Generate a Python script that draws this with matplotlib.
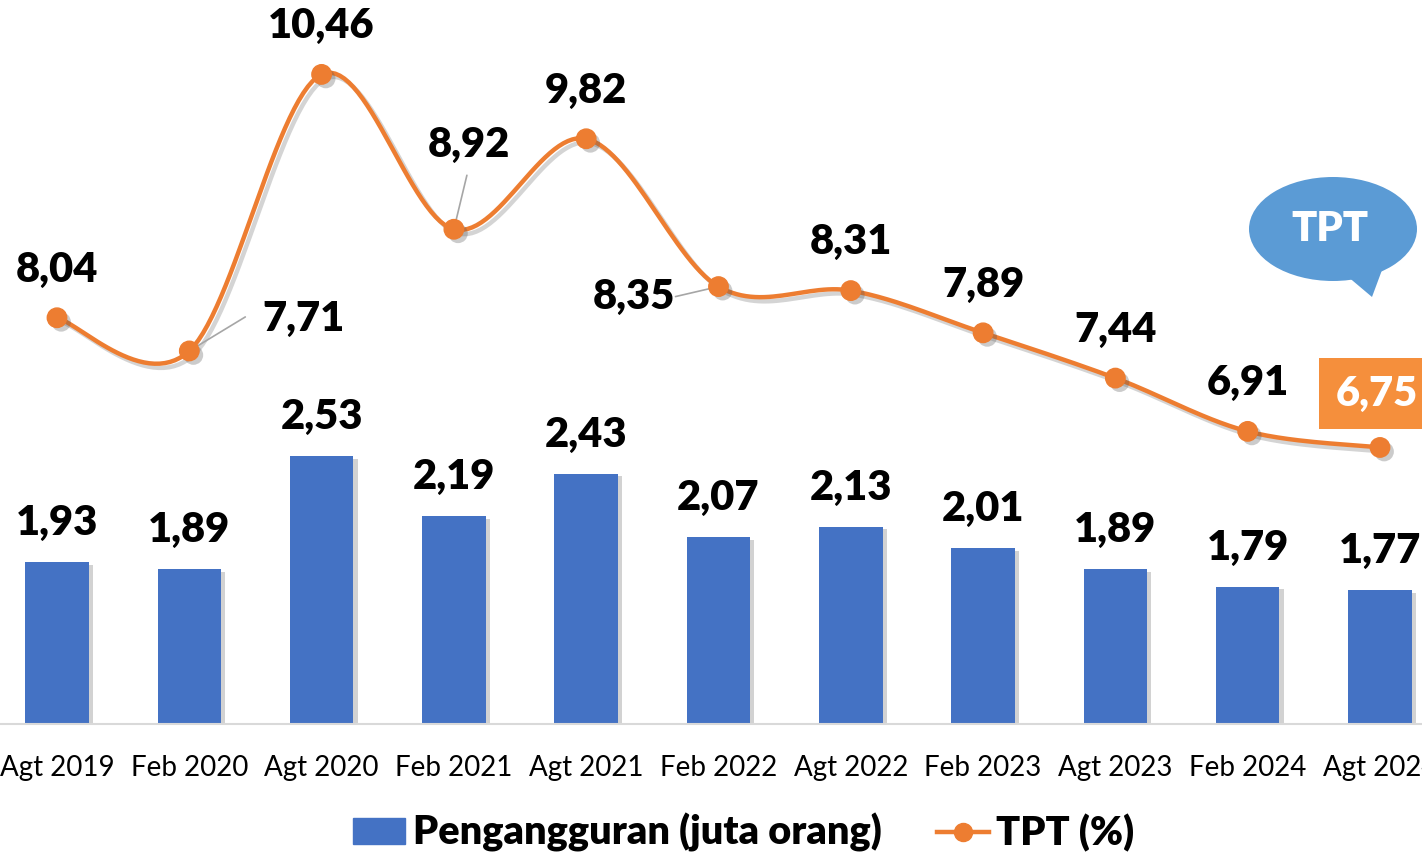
import matplotlib.pyplot as plt
import matplotlib.patheffects as pe
from matplotlib.patches import Patch, Ellipse, Polygon
from matplotlib.lines import Line2D
import numpy as np

plt.rcParams['font.family'] = ['Lato', 'DejaVu Sans']

# data
periode = ["Agt 2019", "Feb 2020", "Agt 2020", "Feb 2021", "Agt 2021", "Feb 2022",
           "Agt 2022", "Feb 2023", "Agt 2023", "Feb 2024", "Agt 2024"]
pengangguran = [1.93, 1.89, 2.53, 2.19, 2.43, 2.07, 2.13, 2.01, 1.89, 1.79, 1.77]
tpt = [8.04, 7.71, 10.46, 8.92, 9.82, 8.35, 8.31, 7.89, 7.44, 6.91, 6.75]

bar_color = "#4472C4"
line_color = "#ED7D31"
bold = "heavy"
lbl_size = 30


def fmt(v):
    return f"{v:.2f}".replace(".", ",")


def catmull_rom(xs, ys, n=30):
    # kurva halus ala Excel
    p = np.column_stack([xs, ys]).astype(float)
    p = np.vstack([p[0], p, p[-1]])
    out = []
    for i in range(1, len(p) - 2):
        p0, p1, p2, p3 = p[i - 1], p[i], p[i + 1], p[i + 2]
        c1 = p1 + (p2 - p0) / 6
        c2 = p2 - (p3 - p1) / 6
        t = np.linspace(0, 1, n)[:, None]
        seg = (1 - t) ** 3 * p1 + 3 * (1 - t) ** 2 * t * c1 + 3 * (1 - t) * t ** 2 * c2 + t ** 3 * p2
        out.append(seg if i == 1 else seg[1:])
    out = np.vstack(out)
    return out[:, 0], out[:, 1]


W, H = 1422, 856
fig = plt.figure(figsize=(W / 100, H / 100), dpi=100)
ax = fig.add_axes([-9.15 / W, 1 - 724 / H, 1455.3 / W, 724 / H])
x = np.arange(len(periode))

bars = ax.bar(x, pengangguran, 0.48, color=bar_color, zorder=2,
              path_effects=[pe.SimplePatchShadow(offset=(3, -2), shadow_rgbFace="#7f7f7f", alpha=0.35),
                            pe.Normal()])
ax.set_xlim(-0.5, len(periode) - 0.5)
ax.set_ylim(1.013, 5.11)
for i, v in enumerate(pengangguran):
    ax.annotate(fmt(v), (x[i], v), xytext=(0, 28), textcoords="offset points",
                ha="center", va="center", fontsize=lbl_size, fontweight=bold, color="black")

for s in ["top", "right", "left"]:
    ax.spines[s].set_visible(False)
ax.spines["bottom"].set_color("#D9D9D9")
ax.spines["bottom"].set_linewidth(1.5)
ax.set_yticks([])
ax.set_xticks(x)
ax.set_xticklabels(periode, fontsize=20)
ax.tick_params(axis="x", length=0, pad=22)

ax2 = ax.twinx()
ax2.set_ylim(4.0, 11.2)
ax2.set_yticks([])
for s in ax2.spines.values():
    s.set_visible(False)

sx, sy = catmull_rom(x, tpt)
ax2.plot(sx, sy, color=line_color, lw=3.2, zorder=3,
         path_effects=[pe.SimpleLineShadow(offset=(3, -3), alpha=0.25, shadow_color="#555555"),
                       pe.Normal()])
ax2.plot(x, tpt, "o", color=line_color, ms=14, zorder=4,
         path_effects=[pe.SimplePatchShadow(offset=(3, -3), alpha=0.3, shadow_rgbFace="#555555"),
                       pe.Normal()])

# posisi label (piksel relatif terhadap titik)
offsets = [(0, 48), (114, 32), (0, 48), (15, 84), (0, 48), (-85, -10),
           (0, 49), (0, 48), (0, 48), (0, 48), (0, 0)]
leaders = {1: ((8, 5), (56, 34)), 3: ((2, 4), (13, 54)), 5: ((-6, -3), (-43, -10))}
for i, v in enumerate(tpt[:-1]):
    dx, dy = offsets[i]
    ax2.annotate(fmt(v), (x[i], v), xytext=(dx * 0.72, dy * 0.72), textcoords="offset points",
                 ha="center", va="center", fontsize=lbl_size, fontweight=bold, color="black", zorder=5)
    if i in leaders:
        (a0, b0), (a1, b1) = leaders[i]
        ax2.annotate("", (x[i], v), xytext=(a1 * 0.72, b1 * 0.72), textcoords="offset points",
                     arrowprops=dict(arrowstyle="-", color="#A6A6A6", lw=1.2,
                                     shrinkA=0, shrinkB=6))

# label terakhir dengan kotak oranye
ax2.annotate(fmt(tpt[-1]), (x[-1], tpt[-1]), xytext=(-44 * 0.72, 54 * 0.72), textcoords="offset points",
             ha="left", va="center", fontsize=lbl_size, fontweight=bold, color="white", zorder=5,
             bbox=dict(boxstyle="square,pad=0.4", fc="#F58F3C", ec="none"),
             annotation_clip=False)

# gelembung TPT
ft = fig.transFigure
bubble_cx, bubble_cy = 1333 / W, 1 - 229 / H
fig.patches.append(Polygon([(1340 / W, 1 - 270 / H), (1372 / W, 1 - 297 / H), (1385 / W, 1 - 262 / H)],
                           closed=True, fc="#5B9BD5", ec="none", transform=ft, figure=fig))
fig.patches.append(Ellipse((bubble_cx, bubble_cy), 168 / W, 104 / H, fc="#5B9BD5", ec="none",
                           transform=ft, figure=fig))
fig.text(1330 / W, bubble_cy, "TPT", color="white", fontsize=lbl_size, fontweight=bold,
         ha="center", va="center")

handles = [Patch(color=bar_color, label="Pengangguran (juta orang)"),
           Line2D([0], [0], color=line_color, lw=3.2, marker="o", ms=13, label="TPT (%)")]
fig.legend(handles=handles, loc="center", bbox_to_anchor=(0.523, 0.027), ncol=2, frameon=False,
           prop=dict(size=28.5, weight=bold), handlelength=1.31, handleheight=0.6,
           handletextpad=0.2, columnspacing=1.4)

fig.savefig("out.png", dpi=100)
